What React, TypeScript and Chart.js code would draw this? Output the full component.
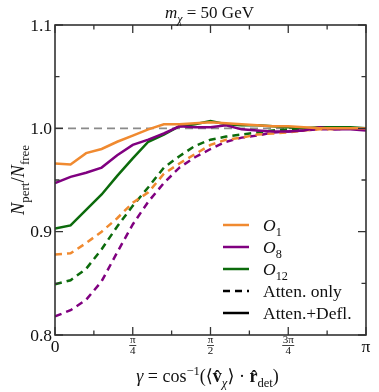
import React, { useEffect, useRef } from "react";
import { Chart, registerables } from "chart.js";
Chart.register(...registerables);

const PI = Math.PI;

// sample angles, as fractions of pi
const gammaOverPi = [0, 0.05, 0.1, 0.15, 0.2, 0.25, 0.3, 0.35, 0.4, 0.45, 0.5, 0.55, 0.6, 0.65, 0.7, 0.75, 0.8, 0.85, 0.9, 0.95, 1.0];

// Atten.+Defl. (solid)
const o1Defl = [0.966, 0.965, 0.976, 0.980, 0.987, 0.993, 0.999, 1.004, 1.004, 1.005, 1.006, 1.005, 1.004, 1.003, 1.002, 1.002, 1.001, 1.000, 1.000, 1.000, 1.000];
const o8Defl = [0.947, 0.953, 0.957, 0.962, 0.974, 0.984, 0.989, 0.995, 1.002, 1.001, 1.001, 1.003, 0.999, 0.998, 0.997, 0.997, 0.998, 1.001, 0.999, 0.999, 0.998];
const o12Defl = [0.903, 0.906, 0.921, 0.936, 0.954, 0.971, 0.987, 0.994, 1.002, 1.004, 1.007, 1.004, 1.003, 1.003, 1.002, 1.001, 1.000, 1.001, 1.001, 1.001, 1.000];

// Atten. only (dashed)
const o1Atten = [0.878, 0.879, 0.889, 0.900, 0.913, 0.928, 0.938, 0.956, 0.966, 0.975, 0.984, 0.989, 0.991, 0.994, 0.995, 0.996, 0.998, 0.999, 0.999, 1.000, 1.000];
const o8Atten = [0.818, 0.824, 0.834, 0.852, 0.880, 0.907, 0.929, 0.947, 0.962, 0.972, 0.980, 0.987, 0.991, 0.993, 0.996, 0.997, 0.998, 0.999, 0.999, 1.000, 1.000];
const o12Atten = [0.849, 0.853, 0.864, 0.883, 0.905, 0.925, 0.943, 0.962, 0.973, 0.983, 0.989, 0.992, 0.994, 0.996, 0.998, 0.999, 0.999, 1.000, 1.000, 1.000, 1.000];

const referenceLevel = 1.0;

// axis ticks
const yMajorTicks = [0.8, 0.9, 1.0, 1.1];
const yMinorTicks = [0.85, 0.95, 1.05];
const xMajorTicksOverPi = [0, 0.25, 0.5, 0.75, 1.0];
const xMinorTicksOverPi = [0.125, 0.375, 0.625, 0.875];
const xTickLabels: { num: string; den: string }[] = [
  { num: "0", den: "" },
  { num: "π", den: "4" },
  { num: "π", den: "2" },
  { num: "3π", den: "4" },
  { num: "π", den: "" },
];
const yTickLabels = ["0.8", "0.9", "1.0", "1.1"];

const COLORS = { o1: "#f08a30", o8: "#800080", o12: "#0c6b0c" };

type Seg = { t: string; f?: "r" | "i" | "b"; s?: number; dy?: number };
const FAM = '"Liberation Serif", "DejaVu Serif", serif';
const fontStr = (f: string | undefined, size: number) =>
  (f === "i" ? "italic " : f === "b" ? "bold " : "") + size + "px " + FAM;

function measureRich(ctx: CanvasRenderingContext2D, segs: Seg[], base: number) {
  let w = 0;
  for (const s of segs) {
    ctx.font = fontStr(s.f, base * (s.s ?? 1));
    w += ctx.measureText(s.t).width;
  }
  return w;
}
function drawRich(ctx: CanvasRenderingContext2D, segs: Seg[], x: number, y: number, base: number, align: "left" | "center") {
  let cx = align === "center" ? x - measureRich(ctx, segs, base) / 2 : x;
  ctx.textAlign = "left";
  ctx.textBaseline = "alphabetic";
  for (const s of segs) {
    ctx.font = fontStr(s.f, base * (s.s ?? 1));
    ctx.fillText(s.t, cx, y + (s.dy ?? 0) * base);
    cx += ctx.measureText(s.t).width;
  }
}
const sub = (t: string, f: "r" | "i" = "r"): Seg => ({ t, f, s: 0.7, dy: 0.28 });
const sup = (t: string): Seg => ({ t, f: "r", s: 0.7, dy: -0.4 });

const titleSegs: Seg[] = [{ t: "m", f: "i" }, sub("χ", "i"), { t: " = 50 GeV" }];
const yLabelSegs: Seg[] = [{ t: "N", f: "i" }, sub("pert"), { t: "/" }, { t: "N", f: "i" }, sub("free")];
const xLabelSegs: Seg[] = [
  { t: "γ", f: "i" }, { t: " = cos" }, sup("−1"), { t: "(⟨" }, { t: "v\u0302", f: "b" }, sub("χ", "i"),
  { t: "⟩ · " }, { t: "r\u0302", f: "b" }, sub("det"), { t: ")" },
];

const legendEntries: { segs: Seg[]; color: string; dash: number[] }[] = [
  { segs: [{ t: "O", f: "i" }, sub("1")], color: COLORS.o1, dash: [] },
  { segs: [{ t: "O", f: "i" }, sub("8")], color: COLORS.o8, dash: [] },
  { segs: [{ t: "O", f: "i" }, sub("12")], color: COLORS.o12, dash: [] },
  { segs: [{ t: "Atten. only" }], color: "#000", dash: [7, 5] },
  { segs: [{ t: "Atten.+Defl." }], color: "#000", dash: [] },
];

const toPts = (ys: number[]) => ys.map((y, i) => ({ x: gammaOverPi[i] * PI, y }));

const decorPlugin = {
  id: "decor",
  afterDraw(chart: any) {
    const ctx: CanvasRenderingContext2D = chart.ctx;
    const { left, right, top, bottom } = chart.chartArea;
    const xs = chart.scales.x;
    const ys = chart.scales.y;
    ctx.save();
    ctx.fillStyle = "#111";
    ctx.strokeStyle = "#333";
    // frame
    ctx.lineWidth = 1.6;
    ctx.setLineDash([]);
    ctx.strokeRect(left, top, right - left, bottom - top);
    // ticks
    ctx.lineWidth = 1.3;
    const tickX = (v: number, len: number) => {
      const p = xs.getPixelForValue(v);
      ctx.beginPath();
      ctx.moveTo(p, bottom); ctx.lineTo(p, bottom - len);
      ctx.moveTo(p, top); ctx.lineTo(p, top + len);
      ctx.stroke();
    };
    const tickY = (v: number, len: number) => {
      const p = ys.getPixelForValue(v);
      ctx.beginPath();
      ctx.moveTo(left, p); ctx.lineTo(left + len, p);
      ctx.moveTo(right, p); ctx.lineTo(right - len, p);
      ctx.stroke();
    };
    xMajorTicksOverPi.forEach((v) => tickX(v * PI, 8));
    xMinorTicksOverPi.forEach((v) => tickX(v * PI, 4.5));
    yMajorTicks.forEach((v) => tickY(v, 8));
    yMinorTicks.forEach((v) => tickY(v, 4.5));

    // y tick labels
    ctx.font = fontStr("r", 17.5);
    ctx.textAlign = "right";
    ctx.textBaseline = "middle";
    yMajorTicks.forEach((v, i) => ctx.fillText(yTickLabels[i], left - 3, ys.getPixelForValue(v) + 1));

    // x tick labels
    xMajorTicksOverPi.forEach((v, i) => {
      const p = xs.getPixelForValue(v * PI);
      const lab = xTickLabels[i];
      ctx.textAlign = "center";
      if (!lab.den) {
        ctx.font = fontStr("r", 17.5);
        ctx.textBaseline = "alphabetic";
        ctx.fillText(lab.num, p, bottom + 17);
      } else {
        ctx.font = fontStr("r", 11);
        ctx.textBaseline = "alphabetic";
        ctx.fillText(lab.num, p, bottom + 8);
        ctx.fillText(lab.den, p, bottom + 19);
        const w = Math.max(ctx.measureText(lab.num).width, 6) + 1;
        ctx.lineWidth = 0.8;
        ctx.strokeStyle = "#111";
        ctx.beginPath();
        ctx.moveTo(p - w / 2, bottom + 10.5);
        ctx.lineTo(p + w / 2, bottom + 10.5);
        ctx.stroke();
      }
    });

    // title and axis labels
    ctx.fillStyle = "#111";
    drawRich(ctx, titleSegs, (left + right) / 2 - 1, top - 7, 17, "center");
    drawRich(ctx, xLabelSegs, (left + right) / 2 - 3, bottom + 47, 18, "center");
    ctx.save();
    ctx.translate(left - 31, (top + bottom) / 2);
    ctx.rotate(-Math.PI / 2);
    drawRich(ctx, yLabelSegs, 0, 0, 18.5, "center");
    ctx.restore();

    // legend
    const lx = right - 143;
    let ly = top + 200;
    legendEntries.forEach((e) => {
      ctx.strokeStyle = e.color;
      ctx.lineWidth = 2.5;
      ctx.setLineDash(e.dash);
      ctx.beginPath();
      ctx.moveTo(lx, ly);
      ctx.lineTo(lx + 26, ly);
      ctx.stroke();
      ctx.setLineDash([]);
      ctx.fillStyle = "#111";
      drawRich(ctx, e.segs, lx + 40, ly + 6, 17.5, "left");
      ly += 22;
    });
    ctx.restore();
  },
};

export default function App() {
  const ref = useRef<HTMLCanvasElement | null>(null);
  useEffect(() => {
    if (!ref.current) return;
    const line = (data: number[], color: string, dashed: boolean) => ({
      data: toPts(data),
      borderColor: color,
      backgroundColor: color,
      borderWidth: 2.5,
      borderDash: dashed ? [7, 5] : [],
      pointRadius: 0,
      tension: 0,
      fill: false,
    });
    const chart = new Chart(ref.current, {
      type: "line",
      data: {
        datasets: [
          line(o1Defl, COLORS.o1, false),
          line(o8Defl, COLORS.o8, false),
          line(o12Defl, COLORS.o12, false),
          line(o1Atten, COLORS.o1, true),
          line(o8Atten, COLORS.o8, true),
          line(o12Atten, COLORS.o12, true),
          {
            data: [{ x: 0, y: referenceLevel }, { x: PI, y: referenceLevel }],
            borderColor: "#8a8a8a",
            borderWidth: 1.8,
            borderDash: [8, 5],
            pointRadius: 0,
            fill: false,
          },
        ],
      },
      options: {
        animation: false,
        responsive: false,
        maintainAspectRatio: false,
        devicePixelRatio: 1,
        layout: { padding: { left: 55, right: 13, top: 25, bottom: 57 } },
        plugins: { legend: { display: false }, tooltip: { enabled: false } },
        scales: {
          x: { type: "linear", min: 0, max: PI, display: false },
          y: { type: "linear", min: 0.8, max: 1.1, display: false },
        },
      },
      plugins: [decorPlugin],
    } as any);
    return () => chart.destroy();
  }, []);
  return (
    <div style={{ position: "fixed", left: 0, top: 0, width: 379, height: 392, background: "#fff" }}>
      <canvas ref={ref} width={379} height={392} style={{ width: 379, height: 392, display: "block" }} />
    </div>
  );
}
